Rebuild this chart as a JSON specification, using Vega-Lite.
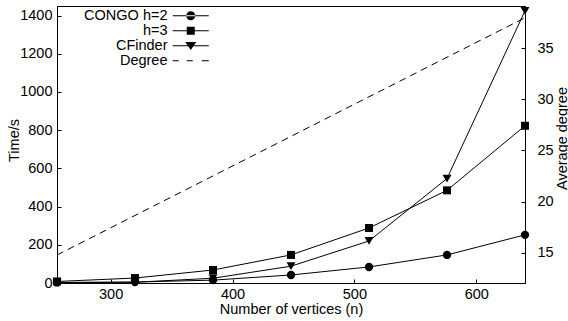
{
  "$schema": "https://vega.github.io/schema/vega-lite/v6.json",
  "width": 468,
  "height": 277,
  "autosize": {"type": "none"},
  "padding": {"left": 57, "top": 6, "right": 43, "bottom": 38},
  "background": "white",
  "config": {
    "view": {"stroke": "black", "strokeWidth": 1},
    "font": "Liberation Sans",
    "axis": {
      "labelFont": "Liberation Sans",
      "labelFontSize": 14.5,
      "labelColor": "black",
      "titleFont": "Liberation Sans",
      "titleFontSize": 14.5,
      "titleFontWeight": "normal",
      "titleColor": "black",
      "domainColor": "black",
      "tickColor": "black",
      "tickSize": -4,
      "grid": false
    },
    "legend": {
      "labelFont": "Liberation Sans",
      "labelFontSize": 14.5,
      "labelColor": "black"
    }
  },
  "data": {
    "values": [
      {"n": 256, "series": "CONGO h=2", "time": 3},
      {"n": 320, "series": "CONGO h=2", "time": 5},
      {"n": 384, "series": "CONGO h=2", "time": 15},
      {"n": 448, "series": "CONGO h=2", "time": 42},
      {"n": 512, "series": "CONGO h=2", "time": 84},
      {"n": 576, "series": "CONGO h=2", "time": 147},
      {"n": 640, "series": "CONGO h=2", "time": 252},
      {"n": 256, "series": "h=3", "time": 8},
      {"n": 320, "series": "h=3", "time": 26},
      {"n": 384, "series": "h=3", "time": 68},
      {"n": 448, "series": "h=3", "time": 147},
      {"n": 512, "series": "h=3", "time": 288},
      {"n": 576, "series": "h=3", "time": 485},
      {"n": 640, "series": "h=3", "time": 823},
      {"n": 256, "series": "CFinder", "time": 2},
      {"n": 320, "series": "CFinder", "time": 4},
      {"n": 384, "series": "CFinder", "time": 25},
      {"n": 448, "series": "CFinder", "time": 88},
      {"n": 512, "series": "CFinder", "time": 220},
      {"n": 576, "series": "CFinder", "time": 547},
      {"n": 640, "series": "CFinder", "time": 1425},
      {"n": 256, "series": "Degree", "degree": 14.8},
      {"n": 320, "series": "Degree", "degree": 18.66},
      {"n": 384, "series": "Degree", "degree": 22.52},
      {"n": 448, "series": "Degree", "degree": 26.38},
      {"n": 512, "series": "Degree", "degree": 30.24},
      {"n": 576, "series": "Degree", "degree": 34.1},
      {"n": 640, "series": "Degree", "degree": 37.95}
    ]
  },
  "encoding": {
    "x": {
      "field": "n",
      "type": "quantitative",
      "scale": {"domain": [256, 640], "nice": false, "zero": false},
      "axis": {"values": [300, 400, 500, 600], "title": "Number of vertices (n)", "labelPadding": 8, "titlePadding": 2}
    }
  },
  "layer": [
    {
      "transform": [{"filter": "datum.series !== 'Degree'"}],
      "encoding": {
        "y": {
          "field": "time",
          "type": "quantitative",
          "scale": {"domain": [0, 1450], "nice": false},
          "axis": {"values": [0, 200, 400, 600, 800, 1000, 1200, 1400], "format": "d", "title": "Time/s", "orient": "left", "labelPadding": 9, "titleX": -39, "titleY": 134, "titleAngle": 270, "titleAlign": "center", "titleBaseline": "alphabetic"}
        }
      },
      "layer": [
        {
          "mark": {"type": "line", "color": "black", "strokeWidth": 1},
          "encoding": {
            "detail": {"field": "series", "type": "nominal"}
          }
        },
        {
          "transform": [{"filter": "datum.series === 'CONGO h=2'"}],
          "mark": {"type": "point", "filled": true, "color": "black", "opacity": 1, "shape": "circle", "size": 70}
        },
        {
          "transform": [{"filter": "datum.series === 'h=3'"}],
          "mark": {"type": "point", "filled": true, "color": "black", "opacity": 1, "shape": "square", "size": 64}
        },
        {
          "transform": [{"filter": "datum.series === 'CFinder'"}],
          "mark": {"type": "point", "filled": true, "color": "black", "opacity": 1, "shape": "triangle-down", "size": 80}
        },
        {
          "mark": {"type": "point", "filled": true, "fill": "black", "strokeWidth": 0, "opacity": 0},
          "encoding": {
            "shape": {
              "field": "series",
              "type": "nominal",
              "scale": {
                "domain": ["CONGO h=2", "h=3", "CFinder", "Degree"],
                "range": [
                  "M-3.6,-0.1H3.6V0.1H-3.6ZM-0.9,0A0.9,0.9 0 1,0 0.9,0A0.9,0.9 0 1,0 -0.9,0Z",
                  "M-3.6,-0.1H3.6V0.1H-3.6ZM-0.8,-0.8H0.8V0.8H-0.8Z",
                  "M-3.6,-0.1H3.6V0.1H-3.6ZM-1.1,-0.75L1.1,-0.75L0,0.85Z",
                  "M-3.6,-0.1H-2.4V0.1H-3.6ZM-0.8,-0.1H0.4V0.1H-0.8ZM2.2,-0.1H3.6V0.1H2.2Z"
                ]
              },
              "legend": {
                "title": null,
                "orient": "none",
                "legendX": 126.5,
                "legendY": 2.5,
                "padding": 0,
                "rowPadding": 0,
                "symbolSize": 100,
                "symbolOpacity": 1,
                "symbolFillColor": "black",
                "symbolStrokeWidth": 0,
                "labelAlign": "right",
                "labelOffset": -30.5
              }
            }
          }
        }
      ]
    },
    {
      "transform": [{"filter": "datum.series === 'Degree'"}],
      "mark": {"type": "line", "color": "black", "strokeWidth": 1, "strokeDash": [7, 5]},
      "encoding": {
        "y": {
          "field": "degree",
          "type": "quantitative",
          "scale": {"domain": [12.07, 39.1], "nice": false, "zero": false},
          "axis": {"values": [15, 20, 25, 30, 35], "title": "Average degree", "orient": "right", "labelPadding": 16, "titleX": 41, "titleY": 132, "titleAngle": 270, "titleAlign": "center", "titleBaseline": "alphabetic"}
        }
      }
    }
  ],
  "resolve": {"scale": {"y": "independent"}, "axis": {"y": "independent"}}
}
